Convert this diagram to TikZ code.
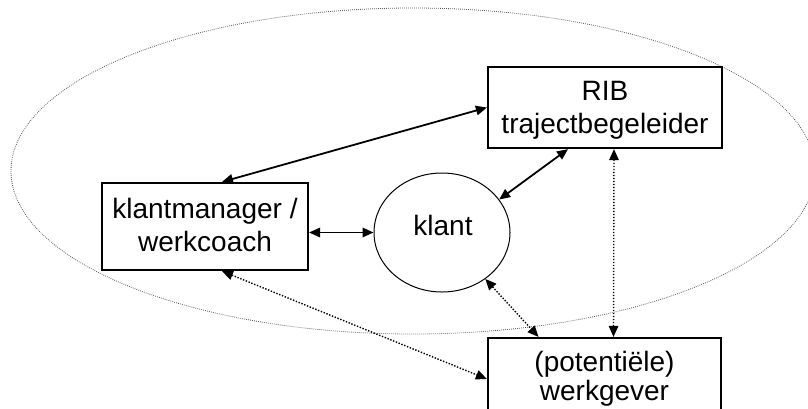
\documentclass[tikz,border=0pt]{standalone}
\usepackage{fontspec}
\setmainfont{Liberation Sans}
\usetikzlibrary{arrows.meta,shapes.geometric,calc}
\begin{document}
\begin{tikzpicture}[x=1pt,y=-1pt,
  box/.style={draw, line width=2.2pt, fill=white, inner sep=0pt},
  lbl/.style={inner sep=0pt, align=center, font=\fontsize{28}{33}\selectfont},
  ell/.style={draw=black!65, line width=0.8pt, dash pattern=on 0.8pt off 1.2pt},
  solidarr/.style={line width=1.8pt, {Triangle[length=11pt,width=9.5pt]}-{Triangle[length=11pt,width=9.5pt]}},
  dotarr/.style={line width=1.4pt, dash pattern=on 1.4pt off 1.6pt, {Triangle[length=11pt,width=9.5pt]}-{Triangle[length=11pt,width=9.5pt]}}
]
\useasboundingbox (0,0) rectangle (808,408);
\clip (0,0) rectangle (808,408);
\fill[white] (0,0) rectangle (808,408);

\draw[ell] (413,171) ellipse [x radius=402pt, y radius=163pt];

\node[box, minimum width=234pt, minimum height=81pt] (rib) at (605,107.5) {};
\node[box, minimum width=206pt, minimum height=87pt] (km) at (205,226.5) {};
\node[box, minimum width=233pt, minimum height=82pt] (wg) at (604.5,379) {};
\node[draw, ellipse, line width=1pt, fill=white, minimum width=136pt, minimum height=119pt, inner sep=0pt] (klant) at (442,232.5) {};

\node[lbl] (ribtext) at (605,110) {RIB\\trajectbegeleider};
\node[lbl] (kmtext) at (205,224.6) {klantmanager /\\werkcoach};
\node[lbl, font=\fontsize{28}{29}\selectfont] (wgtext) at (604.5,378.5) {(potentiële)\\werkgever};
\node[lbl] (klanttext) at (443,225.8) {klant};

\draw[solidarr] ([xshift=17pt]km.north) -- (rib.west);
\draw[solidarr] (km.east |- klant.west) -- (klant.west);
\draw[solidarr] (klant.30) -- ([xshift=-37pt]rib.south);
\draw[dotarr] ([xshift=9pt]rib.south) -- ([xshift=9pt]wg.north);
\draw[dotarr] (klant.-47) -- ([xshift=-66pt]wg.north);
\draw[dotarr] ([xshift=17pt]km.south) -- (wg.west);
\end{tikzpicture}
\end{document}
